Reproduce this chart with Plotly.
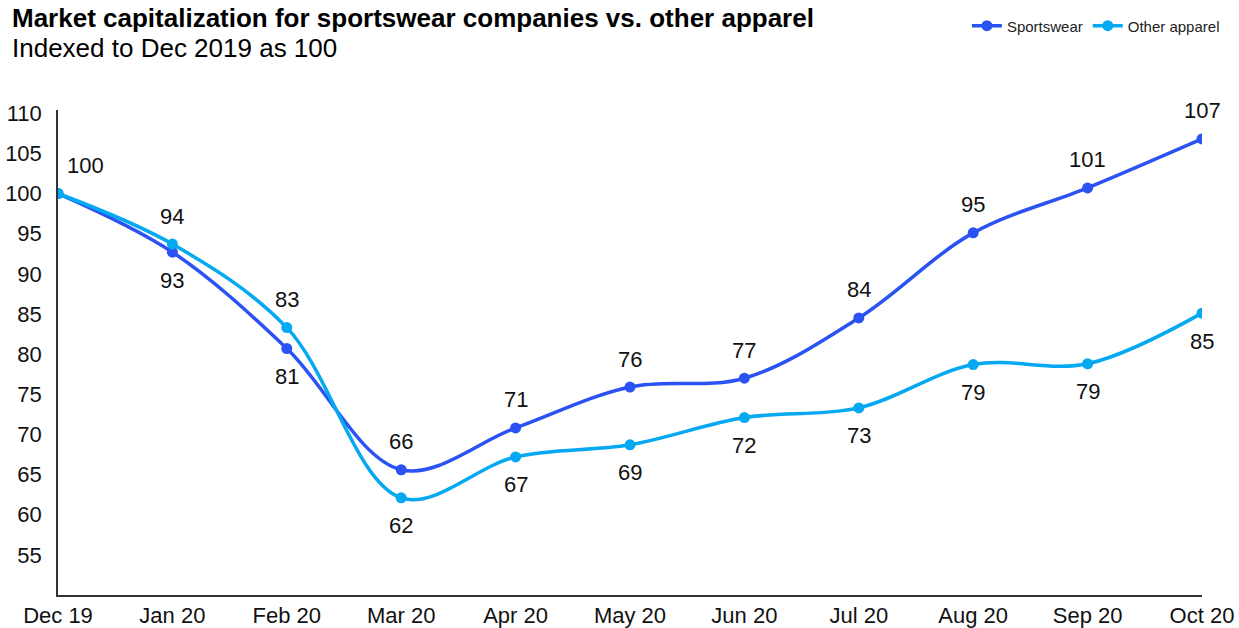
import plotly.graph_objects as go

months = ["Dec 19", "Jan 20", "Feb 20", "Mar 20", "Apr 20", "May 20", "Jun 20",
          "Jul 20", "Aug 20", "Sep 20", "Oct 20"]
sportswear = [100, 92.7, 80.7, 65.6, 70.8, 75.9, 77.0, 84.5, 95.1, 100.7, 106.8]
other_apparel = [100, 93.7, 83.3, 62.1, 67.2, 68.7, 72.1, 73.3, 78.7, 78.8, 85.1]
sports_labels = ["100", "93", "81", "66", "71", "76", "77", "84", "95", "101", "107"]
other_labels = ["100", "94", "83", "62", "67", "69", "72", "73", "79", "79", "85"]
# label above (+1) or below (-1) the point
sports_side = [0, -1, -1, 1, 1, 1, 1, 1, 1, 1, 1]
other_side = [1, 1, 1, -1, -1, -1, -1, -1, -1, -1, -1]
y_ticks = [55, 60, 65, 70, 75, 80, 85, 90, 95, 100, 105, 110]

C_SPORT = "#2B52F2"
C_OTHER = "#04A9F2"
FONT = "Liberation Sans, Arial, sans-serif"

fig = go.Figure()
fig.add_trace(go.Scatter(
    x=months, y=sportswear, name="Sportswear", mode="lines+markers",
    line=dict(color=C_SPORT, width=3.5, shape="spline", smoothing=1.0),
    marker=dict(size=11, color=C_SPORT),
))
fig.add_trace(go.Scatter(
    x=months, y=other_apparel, name="Other apparel", mode="lines+markers",
    line=dict(color=C_OTHER, width=3.5, shape="spline", smoothing=1.0),
    marker=dict(size=11, color=C_OTHER),
))

annotations = []
for m, v, t, s in zip(months, sportswear, sports_labels, sports_side):
    if s == 0:
        continue
    annotations.append(dict(x=m, y=v, text=t, showarrow=False, yshift=28 * s,
                            font=dict(size=22, color="#111111", family=FONT)))
for i, (m, v, t, s) in enumerate(zip(months, other_apparel, other_labels, other_side)):
    xs = 27 if i == 0 else 0
    annotations.append(dict(x=m, y=v, text=t, showarrow=False, yshift=28 * s, xshift=xs,
                            font=dict(size=22, color="#111111", family=FONT)))

annotations.append(dict(xref="paper", yref="paper", x=-0.042, y=1.0,
                        xanchor="left", yanchor="middle", showarrow=False,
                        text="<b>Market capitalization for sportswear companies vs. other apparel</b>",
                        font=dict(size=26, color="#000000", family=FONT), yshift=92))
annotations.append(dict(xref="paper", yref="paper", x=-0.042, y=1.0,
                        xanchor="left", yanchor="middle", showarrow=False,
                        text="Indexed to Dec 2019 as 100",
                        font=dict(size=26, color="#000000", family=FONT), yshift=62))

fig.update_layout(
    width=1239, height=628,
    margin=dict(l=58, r=37, t=110, b=33, autoexpand=False),
    plot_bgcolor="white", paper_bgcolor="white",
    font=dict(family=FONT, color="#111111"),
    showlegend=True,
    legend=dict(orientation="h", x=1.02, xanchor="right", y=0.985, yanchor="top",
                yref="container", font=dict(size=15, color="#222222"),
                itemwidth=30, traceorder="normal"),
    annotations=annotations,
    xaxis=dict(showgrid=False, showline=True, linecolor="#333333", linewidth=1.5,
               ticks="", tickfont=dict(size=22, color="#111111"), range=[0, 10],
               zeroline=False, ticklabelstandoff=0, automargin=False),
    yaxis=dict(showgrid=False, showline=True, linecolor="#333333", linewidth=1.5,
               range=[50, 110.4], tickvals=y_ticks, ticks="",
               tickfont=dict(size=22, color="#111111"), zeroline=False,
               ticklabelstandoff=10, automargin=False),
)

fig.write_html(
    "out.html",
    config={"displayModeBar": False},
    post_script="document.body.style.margin='0';document.body.style.overflow='hidden';",
)
